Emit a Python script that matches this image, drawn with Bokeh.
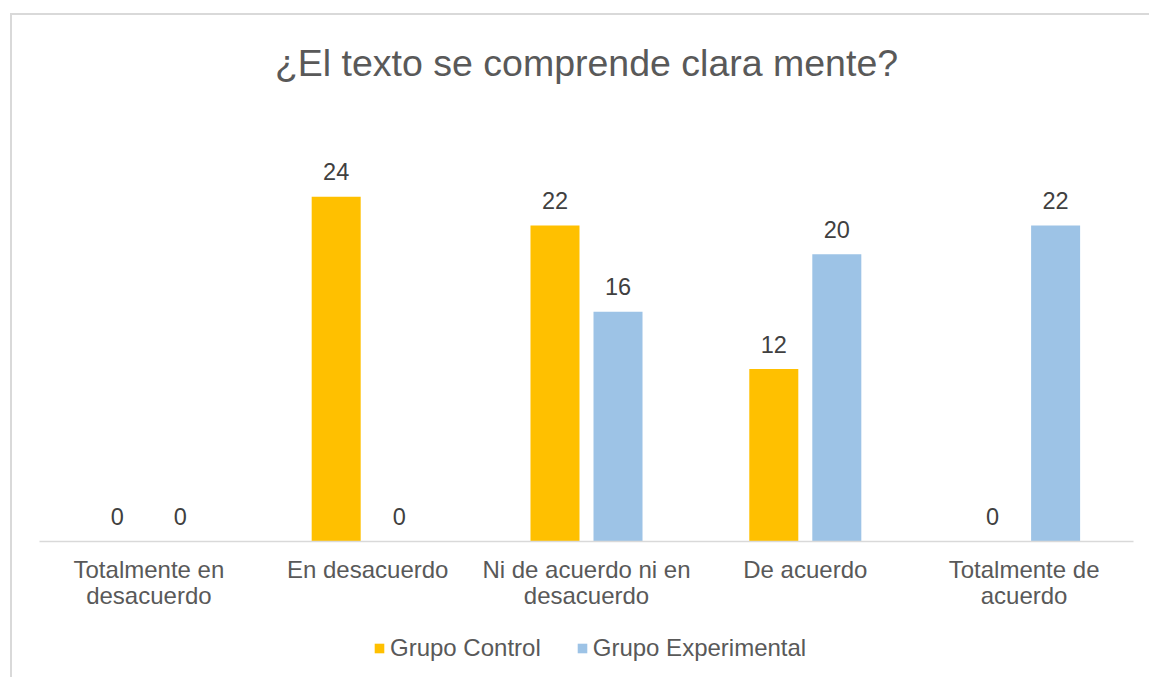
import json
from bokeh.plotting import figure
from bokeh.layouts import column
from bokeh.models import (FactorRange, Range1d, Legend, LegendItem, ColumnDataSource,
                          CategoricalAxis, CustomJSTickFormatter)
from bokeh.transform import dodge
from bokeh.core.properties import value
from bokeh.embed import file_html
from bokeh.resources import INLINE

# ---- data ----
categories = ["Totalmente en desacuerdo", "En desacuerdo", "Ni de acuerdo ni en desacuerdo",
              "De acuerdo", "Totalmente de acuerdo"]
tick_line1 = ["Totalmente en", "En desacuerdo", "Ni de acuerdo ni en", "De acuerdo", "Totalmente de"]
tick_line2 = ["desacuerdo", "", "desacuerdo", "", "acuerdo"]
grupo_control = [0, 24, 22, 12, 0]
grupo_experimental = [0, 0, 16, 20, 22]
series_names = ["Grupo Control", "Grupo Experimental"]
title_text = "¿El texto se comprende clara mente?"

FONT = "Liberation Sans"
ORANGE = "#FFC000"
BLUE = "#9DC3E6"
GRID = "#D9D9D9"

src = ColumnDataSource(dict(
    cat=categories,
    control=grupo_control,
    experimental=grupo_experimental,
    control_lbl=[str(v) for v in grupo_control],
    exp_lbl=[str(v) for v in grupo_experimental],
))

W = 1149
H1 = 619
H2 = 677 - H1


def line_formatter(lines):
    mapping = {c: t for c, t in zip(categories, lines)}
    return CustomJSTickFormatter(code="const m = %s; return (tick in m) ? m[tick] : '';" % json.dumps(mapping))


p = figure(x_range=FactorRange(*categories), y_range=Range1d(0, 30),
           width=W, height=H1, output_backend="svg", toolbar_location=None,
           y_axis_location=None,
           min_border_left=39, min_border_right=16, min_border_top=110, min_border_bottom=H1 - 541)

p.title.text = title_text
p.title.align = "center"
p.title.text_font = FONT
p.title.text_font_size = "37.5px"
p.title.text_font_style = "normal"
p.title.text_color = "#595959"
p.title.standoff = 54

p.xgrid.visible = False
p.ygrid.visible = False
p.outline_line_color = None
p.background_fill_alpha = 0
p.border_fill_alpha = 0

ax = p.xaxis[0]
ax.axis_line_color = GRID
ax.axis_line_width = 1.5
ax.major_tick_line_color = None
ax.minor_tick_line_color = None
ax.major_tick_in = 0
ax.major_tick_out = 0
ax.major_label_text_font = FONT
ax.major_label_text_font_size = "24px"
ax.major_label_text_color = "#595959"
ax.major_label_standoff = 14
ax.formatter = line_formatter(tick_line1)

ax2 = CategoricalAxis()
ax2.axis_line_color = None
ax2.major_tick_line_color = None
ax2.minor_tick_line_color = None
ax2.major_tick_in = 0
ax2.major_tick_out = 0
ax2.major_label_text_font = FONT
ax2.major_label_text_font_size = "24px"
ax2.major_label_text_color = "#595959"
ax2.major_label_standoff = -4
ax2.formatter = line_formatter(tick_line2)
p.add_layout(ax2, "below")

OFF = 0.144
BW = 0.224
r1 = p.vbar(x=dodge("cat", -OFF, range=p.x_range), top="control", width=BW, source=src,
            fill_color=ORANGE, line_color=None)
r2 = p.vbar(x=dodge("cat", OFF, range=p.x_range), top="experimental", width=BW, source=src,
            fill_color=BLUE, line_color=None)

for col, lbl, off in (("control", "control_lbl", -OFF), ("experimental", "exp_lbl", OFF)):
    p.text(x=dodge("cat", off, range=p.x_range), y=col, text=lbl, source=src,
           text_align="center", text_baseline="alphabetic", y_offset=-25,
           text_font=value(FONT), text_font_size="23.5px", text_color="#404040")

# ---- legend (separate strip below the chart) ----
pl = figure(width=W, height=H2, output_backend="svg", toolbar_location=None,
            x_axis_location=None, y_axis_location=None,
            min_border_left=0, min_border_right=0, min_border_top=0, min_border_bottom=0,
            x_range=Range1d(0, 1), y_range=Range1d(0, 1))
pl.xgrid.visible = False
pl.ygrid.visible = False
pl.outline_line_color = None
pl.background_fill_alpha = 0
pl.border_fill_alpha = 0
dummy = ColumnDataSource(dict(x=[0.5], top=[0]))
l1 = pl.vbar(x="x", top="top", width=0.01, source=dummy, fill_color=ORANGE, line_color=None)
l2 = pl.vbar(x="x", top="top", width=0.01, source=dummy, fill_color=BLUE, line_color=None)
legend = Legend(items=[LegendItem(label=series_names[0], renderers=[l1]),
                       LegendItem(label=series_names[1], renderers=[l2])],
                orientation="horizontal", location=(334, 15),
                glyph_width=12, glyph_height=12, label_standoff=5, spacing=35,
                label_text_font=FONT, label_text_font_size="24px", label_text_color="#595959",
                border_line_color=None, background_fill_alpha=0, padding=0, margin=0)
pl.add_layout(legend)

layout = column(p, pl, spacing=0)
layout.styles = {
    "background": ("linear-gradient(#D9D9D9, #D9D9D9) 10px 13px / 2px 100% no-repeat, "
                   "linear-gradient(#D9D9D9, #D9D9D9) 10px 13px / 100% 2px no-repeat, white"),
}

open("out.html", "w").write(file_html(layout, INLINE))
